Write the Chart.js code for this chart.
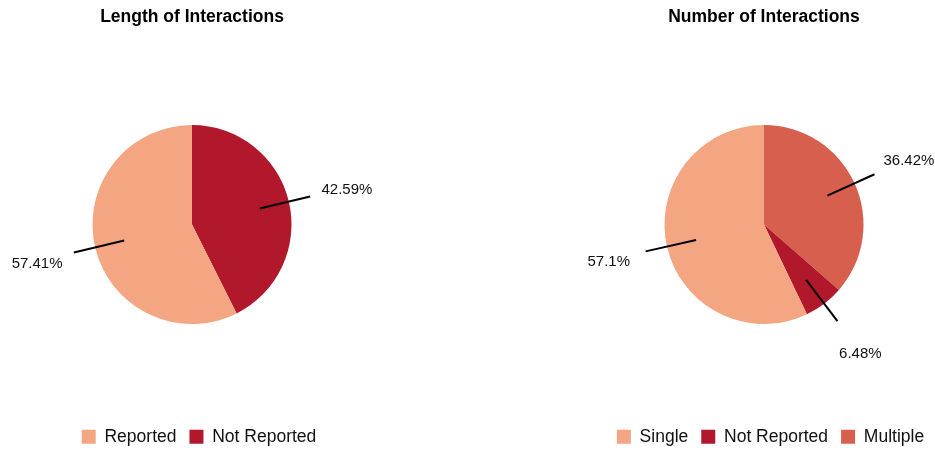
<!DOCTYPE html>
<html>
<head>
<meta charset="utf-8">
<script src="https://cdn.jsdelivr.net/npm/chart.js@4.4.0/dist/chart.umd.min.js"></script>
<style>
  html, body { margin: 0; padding: 0; background: #fff; }
  body { width: 935px; height: 450px; position: relative; overflow: hidden; }
  #lengthChart { position: absolute; left: 0; top: 0; }
  #countChart { position: absolute; left: 560px; top: 0; }
</style>
</head>
<body>
<canvas id="lengthChart" width="384" height="450"></canvas>
<canvas id="countChart" width="375" height="450"></canvas>
<script>
// Length of Interactions
const lengthLabels = ['Reported', 'Not Reported'];
const lengthValues = [57.41, 42.59];
const lengthColors = ['#F4A582', '#B2182B'];

// Number of Interactions
const countLabels = ['Single', 'Not Reported', 'Multiple'];
const countValues = [57.1, 6.48, 36.42];
const countColors = ['#F4A582', '#B2182B', '#D6604D'];

const FONT = "'Liberation Sans', Arial, sans-serif";

// percentage labels with leader lines
const leaderLabels = {
  id: 'leaderLabels',
  afterDatasetsDraw(chart) {
    const ctx = chart.ctx;
    const meta = chart.getDatasetMeta(0);
    const values = chart.data.datasets[0].data;
    ctx.save();
    ctx.strokeStyle = '#000';
    ctx.lineWidth = 2;
    ctx.fillStyle = '#111';
    ctx.font = '15px ' + FONT;
    ctx.textAlign = 'center';
    ctx.textBaseline = 'middle';
    meta.data.forEach((arc, i) => {
      const { x, y, startAngle, endAngle, outerRadius } =
        arc.getProps(['x', 'y', 'startAngle', 'endAngle', 'outerRadius'], true);
      const mid = (startAngle + endAngle) / 2;
      const cos = Math.cos(mid), sin = Math.sin(mid);
      ctx.beginPath();
      ctx.moveTo(x + cos * outerRadius * 0.7, y + sin * outerRadius * 0.7);
      ctx.lineTo(x + cos * outerRadius * 1.22, y + sin * outerRadius * 1.22);
      ctx.stroke();
      ctx.fillText(values[i] + '%', x + cos * outerRadius * 1.6, y + sin * outerRadius * 1.6 + 2.5);
    });
    ctx.restore();
  }
};

// legend sits a few px right of the pie centre
const legendShift = {
  id: 'legendShift',
  afterLayout(chart, args, opts) {
    const legend = chart.legend;
    if (!legend || !opts.dx) return;
    legend.left += opts.dx;
    legend.right += opts.dx;
  }
};

function makePie(id, title, labels, values, colors, padLeft, dx) {
  const ctx = document.getElementById(id).getContext('2d');
  return new Chart(ctx, {
    type: 'pie',
    data: {
      // drawn clockwise from the top in reverse legend order
      labels: labels.slice().reverse(),
      datasets: [{
        data: values.slice().reverse(),
        backgroundColor: colors.slice().reverse(),
        borderWidth: 0
      }]
    },
    options: {
      responsive: false,
      animation: false,
      radius: 99.5,
      layout: { padding: { left: padLeft, top: 0, right: 0, bottom: 0 } },
      plugins: {
        title: {
          display: true,
          text: title,
          color: '#000',
          font: { family: FONT, size: 17.5, weight: 'bold', lineHeight: 1.2 },
          padding: { top: 7, bottom: 6 }
        },
        legend: {
          position: 'bottom',
          reverse: true,
          maxHeight: 35,
          labels: {
            boxWidth: 14,
            boxHeight: 14,
            padding: 13,
            color: '#111',
            font: { family: FONT, size: 17.5 }
          }
        },
        tooltip: { enabled: false },
        legendShift: { dx }
      }
    },
    plugins: [leaderLabels, legendShift]
  });
}

makePie('lengthChart', 'Length of Interactions', lengthLabels, lengthValues, lengthColors, 0, 7);
makePie('countChart', 'Number of Interactions', countLabels, countValues, countColors, 33, 6.5);
</script>
</body>
</html>
